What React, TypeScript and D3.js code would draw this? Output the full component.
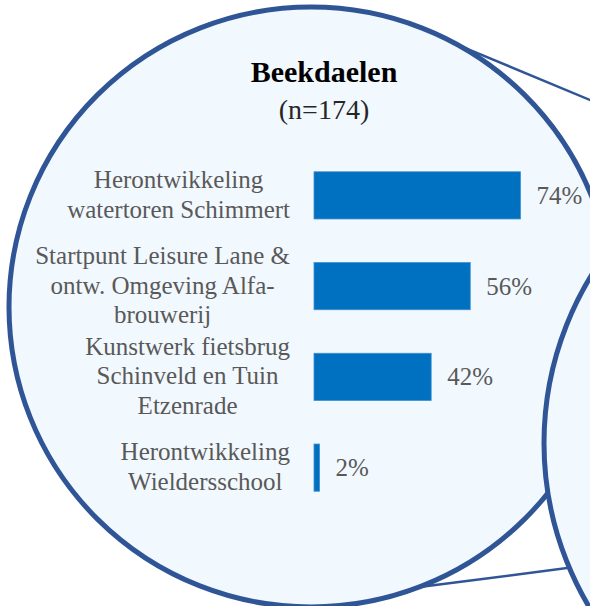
import * as d3 from "d3";
import { useEffect, useRef } from "react";

// data
const title = "Beekdaelen";
const subtitle = "(n=174)";
const categories = [
  "Herontwikkeling\nwatertoren Schimmert",
  "Startpunt Leisure Lane &\nontw. Omgeving Alfa-\nbrouwerij",
  "Kunstwerk fietsbrug\nSchinveld en Tuin\nEtzenrade",
  "Herontwikkeling\nWieldersschool",
];
const values = [74, 56, 42, 2];

export default function App() {
  const ref = useRef<SVGSVGElement>(null);

  useEffect(() => {
    const width = 590;
    const height = 606;
    const font = "'Liberation Serif', 'Times New Roman', serif";
    const textColor = "#595959";
    const ring = "#2f5597";
    const fill = "#f1f8fe";

    const svg = d3.select(ref.current)
      .attr("width", width)
      .attr("height", height)
      .attr("viewBox", `0 0 ${width} ${height}`);
    svg.selectAll("*").remove();

    svg.append("rect").attr("width", width).attr("height", height).attr("fill", "#fff");

    // callout lines (behind the bubbles)
    svg.append("line")
      .attr("x1", 440).attr("y1", 37.6).attr("x2", 610).attr("y2", 108.3)
      .attr("stroke", ring).attr("stroke-width", 2.5);
    svg.append("line")
      .attr("x1", 400).attr("y1", 589.6).attr("x2", 640).attr("y2", 558.6)
      .attr("stroke", ring).attr("stroke-width", 2.5);

    // big bubble
    svg.append("ellipse")
      .attr("cx", 311).attr("cy", 307).attr("rx", 302).attr("ry", 300)
      .attr("fill", fill).attr("stroke", ring).attr("stroke-width", 5);

    // next bubble, partly visible on the right
    svg.append("circle")
      .attr("cx", 864).attr("cy", 443).attr("r", 320)
      .attr("fill", fill).attr("stroke", ring).attr("stroke-width", 5);

    // --- title ---
    svg.append("text")
      .attr("x", 324).attr("y", 82)
      .attr("text-anchor", "middle")
      .attr("font-family", font).attr("font-size", 30).attr("font-weight", "bold")
      .attr("fill", "#000")
      .text(title);
    svg.append("text")
      .attr("x", 324).attr("y", 119)
      .attr("text-anchor", "middle")
      .attr("font-family", font).attr("font-size", 28)
      .attr("fill", "#262626")
      .text(subtitle);

    // --- scales ---
    const x = d3.scaleLinear().domain([0, 100]).range([314, 593]);
    const y = d3.scaleBand()
      .domain(categories)
      .range([150, 513])
      .paddingInner(0.48)
      .paddingOuter(0.24);

    const rows = categories.map((c, i) => ({ cat: c, value: values[i] }));

    // bars
    svg.selectAll("rect.bar")
      .data(rows)
      .join("rect")
      .attr("class", "bar")
      .attr("x", x(0))
      .attr("y", d => y(d.cat)!)
      .attr("width", d => x(d.value) - x(0))
      .attr("height", y.bandwidth())
      .attr("fill", "#0070c0")
      .attr("stroke", "#3d8fd1")
      .attr("stroke-width", 0.8);

    // value labels
    svg.selectAll("text.val")
      .data(rows)
      .join("text")
      .attr("class", "val")
      .attr("x", d => x(d.value) + 16)
      .attr("y", d => y(d.cat)! + y.bandwidth() / 2 + 8.5)
      .attr("font-family", font).attr("font-size", 25)
      .attr("fill", textColor)
      .text(d => `${d.value}%`);

    // category labels: lines centred on each other, block right-aligned
    const lineH = 29.5;
    const labelRight = 290;
    rows.forEach(d => {
      const lines = d.cat.split("\n");
      const mid = y(d.cat)! + y.bandwidth() / 2;
      const g = svg.append("g");
      const texts = g.selectAll("text")
        .data(lines)
        .join("text")
        .attr("y", (_, j) => mid - ((lines.length - 1) * lineH) / 2 + 7.5 + j * lineH)
        .attr("text-anchor", "middle")
        .attr("font-family", font).attr("font-size", 25)
        .attr("fill", textColor)
        .text(t => t);
      let maxW = 0;
      texts.each(function () {
        maxW = Math.max(maxW, (this as SVGTextElement).getComputedTextLength());
      });
      texts.attr("x", labelRight - maxW / 2);
    });
  }, []);

  return (
    <svg ref={ref} style={{ position: "absolute", left: 0, top: 0, display: "block" }}></svg>
  );
}
